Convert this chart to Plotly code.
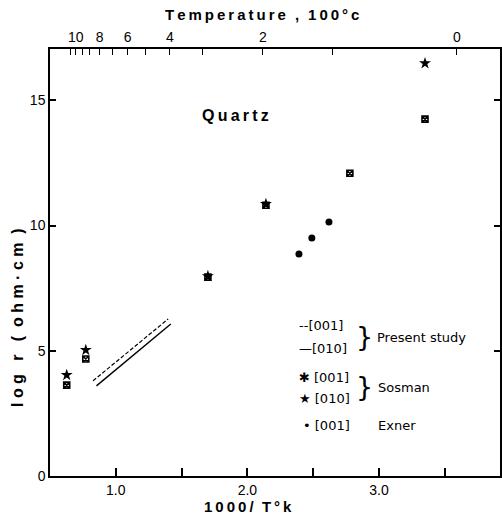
import plotly.graph_objects as go

# ---- data ----
present_001_x = [0.827, 1.398]
present_001_y = [3.80, 6.27]
present_010_x = [0.853, 1.418]
present_010_y = [3.60, 6.07]

sosman_001_x = [0.627, 0.772, 1.700, 2.141, 2.779, 3.350]
sosman_001_y = [3.63, 4.67, 7.94, 10.81, 12.09, 14.25]
sosman_010_x = [0.627, 0.772, 1.700, 2.141, 3.350]
sosman_010_y = [4.03, 5.03, 7.98, 10.86, 16.48]

exner_001_x = [2.392, 2.490, 2.620]
exner_001_y = [8.86, 9.50, 10.14]

x_tickvals = [1.0, 1.5, 2.0, 2.5, 3.0, 3.5]
x_ticktext = ["1.0", "", "2.0", "", "3.0", ""]
y_tickvals = [0, 5, 10, 15]
y_ticktext = ["0", "5", "10", "15"]

temp_major_pos = [0.696, 0.878, 1.091, 1.411, 2.118, 3.593]
temp_major_lbl = ["10", "8", "6", "4", "2", "0"]
temp_minor_pos = [0.658, 0.749, 0.802, 0.977, 1.228, 1.662, 2.650]

X_RANGE = [0.5, 3.92]
Y_RANGE = [0, 17.05]

W, H = 502, 517
ML, MR, MT, MB = 50, 2, 49, 41
PW, PH = W - ML - MR, H - MT - MB

def px(xp):
    return (xp - ML) / PW

def py(yp):
    return (H - MB - yp) / PH

BOLD = "Liberation Sans"
LEG = "DejaVu Sans"
TS = "\u2009"

def spaced(s):
    return TS.join(list(s))

fig = go.Figure()
fig.add_trace(go.Scatter(x=present_001_x, y=present_001_y, mode="lines",
                         line=dict(color="black", width=1.2, dash="4px,2px")))
fig.add_trace(go.Scatter(x=present_010_x, y=present_010_y, mode="lines",
                         line=dict(color="black", width=1.4)))
fig.add_trace(go.Scatter(x=sosman_001_x, y=sosman_001_y, mode="markers",
                         marker=dict(symbol="square-x-open", size=6, color="black", line=dict(width=1.6, color="black"))))
fig.add_trace(go.Scatter(x=sosman_010_x, y=sosman_010_y, mode="markers",
                         marker=dict(symbol="star", size=9, color="black")))
fig.add_trace(go.Scatter(x=exner_001_x, y=exner_001_y, mode="markers",
                         marker=dict(symbol="circle", size=7, color="black")))
# invisible trace on top axis
fig.add_trace(go.Scatter(x=[X_RANGE[0]], y=[0], mode="markers", marker=dict(opacity=0),
                         xaxis="x2", yaxis="y", hoverinfo="skip"))

tickfont = dict(family=BOLD, size=14, color="black")
fig.update_layout(
    width=W, height=H, showlegend=False,
    margin=dict(l=ML, r=MR, t=MT, b=MB),
    paper_bgcolor="white", plot_bgcolor="white",
    xaxis=dict(range=X_RANGE, showgrid=False, zeroline=False, showline=True, linecolor="black", linewidth=1.5,
               ticks="inside", ticklen=8, tickwidth=1.5, tickcolor="black", automargin=False,
               tickmode="array", tickvals=x_tickvals, ticktext=x_ticktext, tickfont=tickfont),
    xaxis2=dict(range=X_RANGE, overlaying="x", side="top", showgrid=False, zeroline=False,
                showline=True, linecolor="black", linewidth=1.5, automargin=False,
                ticks="inside", ticklen=6, tickwidth=1.3, tickcolor="black",
                tickmode="array", tickvals=temp_major_pos, ticktext=temp_major_lbl, tickfont=tickfont,
                minor=dict(tickmode="array", tickvals=temp_minor_pos, ticks="inside", ticklen=6,
                           tickwidth=1.2, tickcolor="black")),
    yaxis=dict(range=Y_RANGE, showgrid=False, zeroline=False, showline=True, linecolor="black", linewidth=1.5,
               mirror="ticks", ticks="inside", ticklen=6, tickwidth=1.5, tickcolor="black", automargin=False,
               tickmode="array", tickvals=y_tickvals, ticktext=y_ticktext, tickfont=tickfont),
)

ann = []
def add_text(text, xp, yp, size=13, family=LEG, xanchor="left", bold=False, angle=0):
    t = f"<b>{text}</b>" if bold else text
    ann.append(dict(text=t, x=px(xp), y=py(yp), xref="paper", yref="paper", showarrow=False,
                    xanchor=xanchor, yanchor="middle", textangle=angle, borderpad=0,
                    font=dict(family=family, size=size, color="black")))

add_text(spaced("Temperature") + TS * 3 + "," + TS * 3 + spaced("100°c"), 262, 15, size=15, family=BOLD,
         xanchor="center", bold=True)
add_text(spaced("1000/") + "  " + spaced("T°k"), 248, 506, size=15, family=BOLD, xanchor="center", bold=True)
add_text("l o g   r   (  o h m · c m  )", 17, 318, size=16, family=BOLD,
         xanchor="center", bold=True, angle=-90)
add_text(spaced("Quartz"), 235, 116, size=16, family=BOLD, xanchor="center", bold=True)

add_text("--[001]", 298, 325)
add_text("—[010]", 298, 348)
add_text("✱ [001]", 298, 377)
add_text("★ [010]", 298, 398)
add_text("• [001]", 302, 425)
add_text("Present study", 376, 337)
add_text("Sosman", 377, 387)
add_text("Exner", 377, 425)
add_text("}", 355, 336, size=27)
add_text("}", 355, 386, size=27)

fig.update_layout(annotations=ann)
fig.write_html("out.html", config={"displayModeBar": False},
               post_script="document.body.style.margin='0px';")
